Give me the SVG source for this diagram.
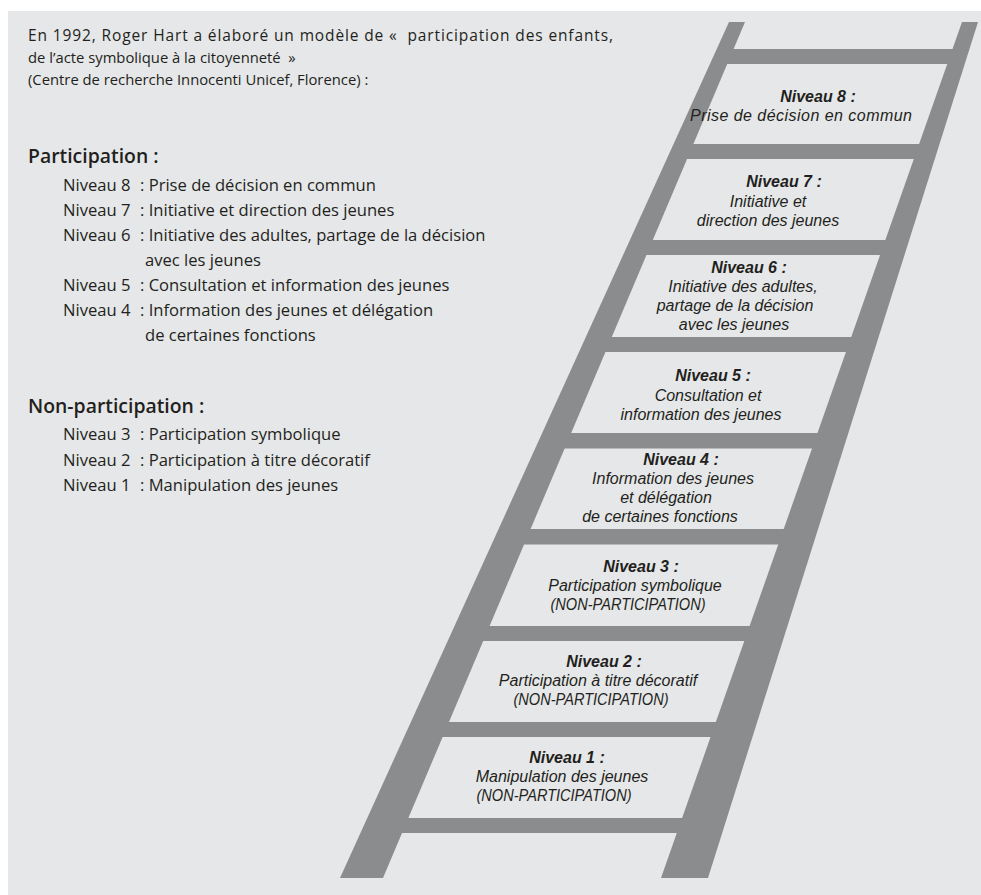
<svg xmlns="http://www.w3.org/2000/svg" width="981" height="895" viewBox="0 0 981 895">
<style>
.bg{fill:#e6e7e8}
.wood{fill:#8b8c8e}
.lt{font-family:"Open Sans","Liberation Sans",sans-serif;font-size:16.6px;fill:#231f20}
.hd{font-size:14.8px}
.h{font-weight:600;font-size:19.4px}
.lad{font-family:"Liberation Sans",Arial,sans-serif;font-style:italic;font-size:16px;fill:#231f20;text-anchor:middle}
.lv{font-weight:bold}
</style>
<rect class="bg" x="8" y="11" width="973" height="884"/>

<g id="ladder" class="wood">
  <polygon points="729,22 745,22 383,878 340,878"/>
  <polygon points="962,22 978,22 708,878 661,878"/>
  <rect x="726" y="49" width="227.5" height="15"/>
  <rect x="686" y="144" width="234" height="15"/>
  <rect x="645.5" y="240" width="240.8" height="15"/>
  <rect x="604.4" y="337" width="247.8" height="15"/>
  <rect x="563.8" y="433" width="254.7" height="15.5"/>
  <rect x="523.2" y="529" width="261.5" height="15.5"/>
  <rect x="482.2" y="626" width="268.4" height="15"/>
  <rect x="441.6" y="722" width="275.3" height="15"/>
  <rect x="401" y="818" width="282.1" height="15"/>
</g>

<g id="connectors"></g>

<g id="intro" class="lt">
  <text style="font-size:15.5px" x="28" y="41" textLength="585" lengthAdjust="spacing">En 1992, Roger Hart a élaboré un modèle de «&#160; participation des enfants,</text>
  <text class="hd" x="28" y="63">de l’acte symbolique à la citoyenneté&#160; »</text>
  <text class="hd" x="28" y="85">(Centre de recherche Innocenti Unicef, Florence) :</text>
</g>

<g id="participation-list" class="lt">
  <text class="h" x="28" y="163">Participation :</text>
  <text x="63" y="191">Niveau 8</text><text x="140" y="191">: Prise de décision en commun</text>
  <text x="63" y="216">Niveau 7</text><text x="140" y="216">: Initiative et direction des jeunes</text>
  <text x="63" y="241">Niveau 6</text><text x="140" y="241">: Initiative des adultes, partage de la décision</text>
  <text x="145" y="266">avec les jeunes</text>
  <text x="63" y="291">Niveau 5</text><text x="140" y="291">: Consultation et information des jeunes</text>
  <text x="63" y="316">Niveau 4</text><text x="140" y="316">: Information des jeunes et délégation</text>
  <text x="145" y="341">de certaines fonctions</text>
</g>

<g id="non-participation-list" class="lt">
  <text class="h" x="28" y="413">Non-participation :</text>
  <text x="63" y="440">Niveau 3</text><text x="140" y="440">: Participation symbolique</text>
  <text x="63" y="466">Niveau 2</text><text x="140" y="466">: Participation à titre décoratif</text>
  <text x="63" y="491">Niveau 1</text><text x="140" y="491">: Manipulation des jeunes</text>
</g>

<g id="level-8" class="lad">
  <text class="lv" x="818" y="102">Niveau 8 :</text>
  <text x="801" y="121" textLength="222" lengthAdjust="spacing">Prise de décision en commun</text>
</g>
<g id="level-7" class="lad">
  <text class="lv" x="784" y="187">Niveau 7 :</text>
  <text x="768" y="207">Initiative et</text>
  <text x="768" y="226">direction des jeunes</text>
</g>
<g id="level-6" class="lad">
  <text class="lv" x="749" y="273">Niveau 6 :</text>
  <text x="743" y="292">Initiative des adultes,</text>
  <text x="735" y="311">partage de la décision</text>
  <text x="734" y="330">avec les jeunes</text>
</g>
<g id="level-5" class="lad">
  <text class="lv" x="713" y="381">Niveau 5 :</text>
  <text x="708" y="401">Consultation et</text>
  <text x="701" y="420">information des jeunes</text>
</g>
<g id="level-4" class="lad">
  <text class="lv" x="681" y="465">Niveau 4 :</text>
  <text x="673" y="484">Information des jeunes</text>
  <text x="666" y="503">et délégation</text>
  <text x="660" y="522">de certaines fonctions</text>
</g>
<g id="level-3" class="lad">
  <text class="lv" x="641" y="572">Niveau 3 :</text>
  <text x="635" y="591">Participation symbolique</text>
  <text x="628" y="610" textLength="155" lengthAdjust="spacingAndGlyphs">(NON-PARTICIPATION)</text>
</g>
<g id="level-2" class="lad">
  <text class="lv" x="604" y="667">Niveau 2 :</text>
  <text x="598" y="686">Participation à titre décoratif</text>
  <text x="591" y="705" textLength="155" lengthAdjust="spacingAndGlyphs">(NON-PARTICIPATION)</text>
</g>
<g id="level-1" class="lad">
  <text class="lv" x="567" y="763">Niveau 1 :</text>
  <text x="562" y="782">Manipulation des jeunes</text>
  <text x="554" y="801" textLength="155" lengthAdjust="spacingAndGlyphs">(NON-PARTICIPATION)</text>
</g>
</svg>
